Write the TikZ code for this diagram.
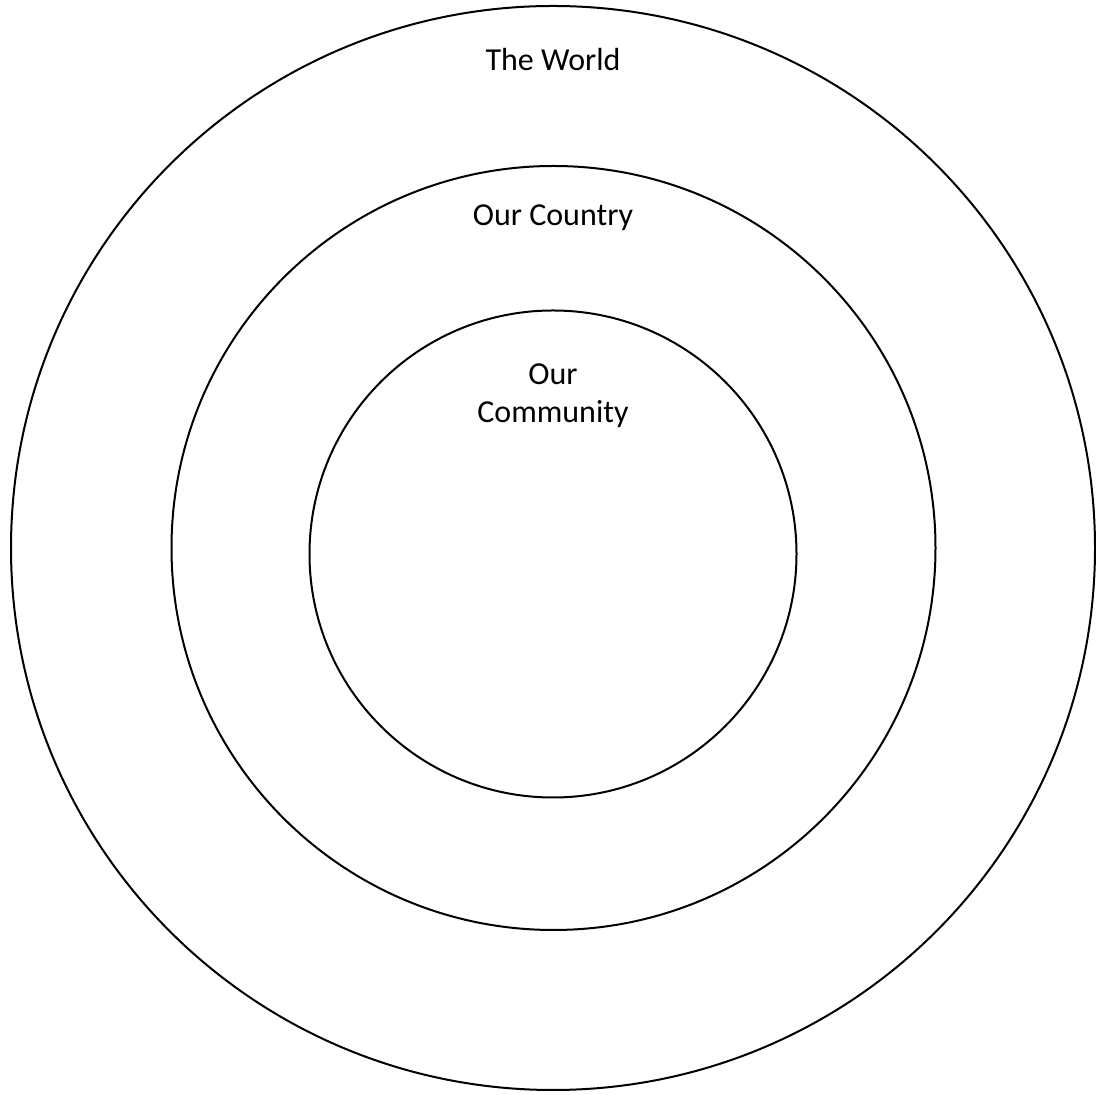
\documentclass[tikz,border=0pt]{standalone}
\usepackage{fontspec}
\setmainfont{Carlito}
\begin{document}
\begin{tikzpicture}[x=1pt,y=1pt,
  ring/.style={draw=black, line width=2pt, circle, inner sep=0pt},
  lbl/.style={font=\fontsize{32}{38}\selectfont, align=center, text=black}]
\useasboundingbox (0,0) rectangle (1096,1095);
\node[ring, minimum size=1084pt] (world) at (553,547) {};
\node[ring, minimum size=764pt] (country) at (553.5,547) {};
\node[ring, minimum size=487pt] (community) at (553,541) {};
\node[lbl] (tw) at (553,1035) {The World};
\node[lbl] (oc) at (553,877) {Our Country};
\node[lbl] (ocm) at (553,699) {Our\\Community};
\end{tikzpicture}
\end{document}
